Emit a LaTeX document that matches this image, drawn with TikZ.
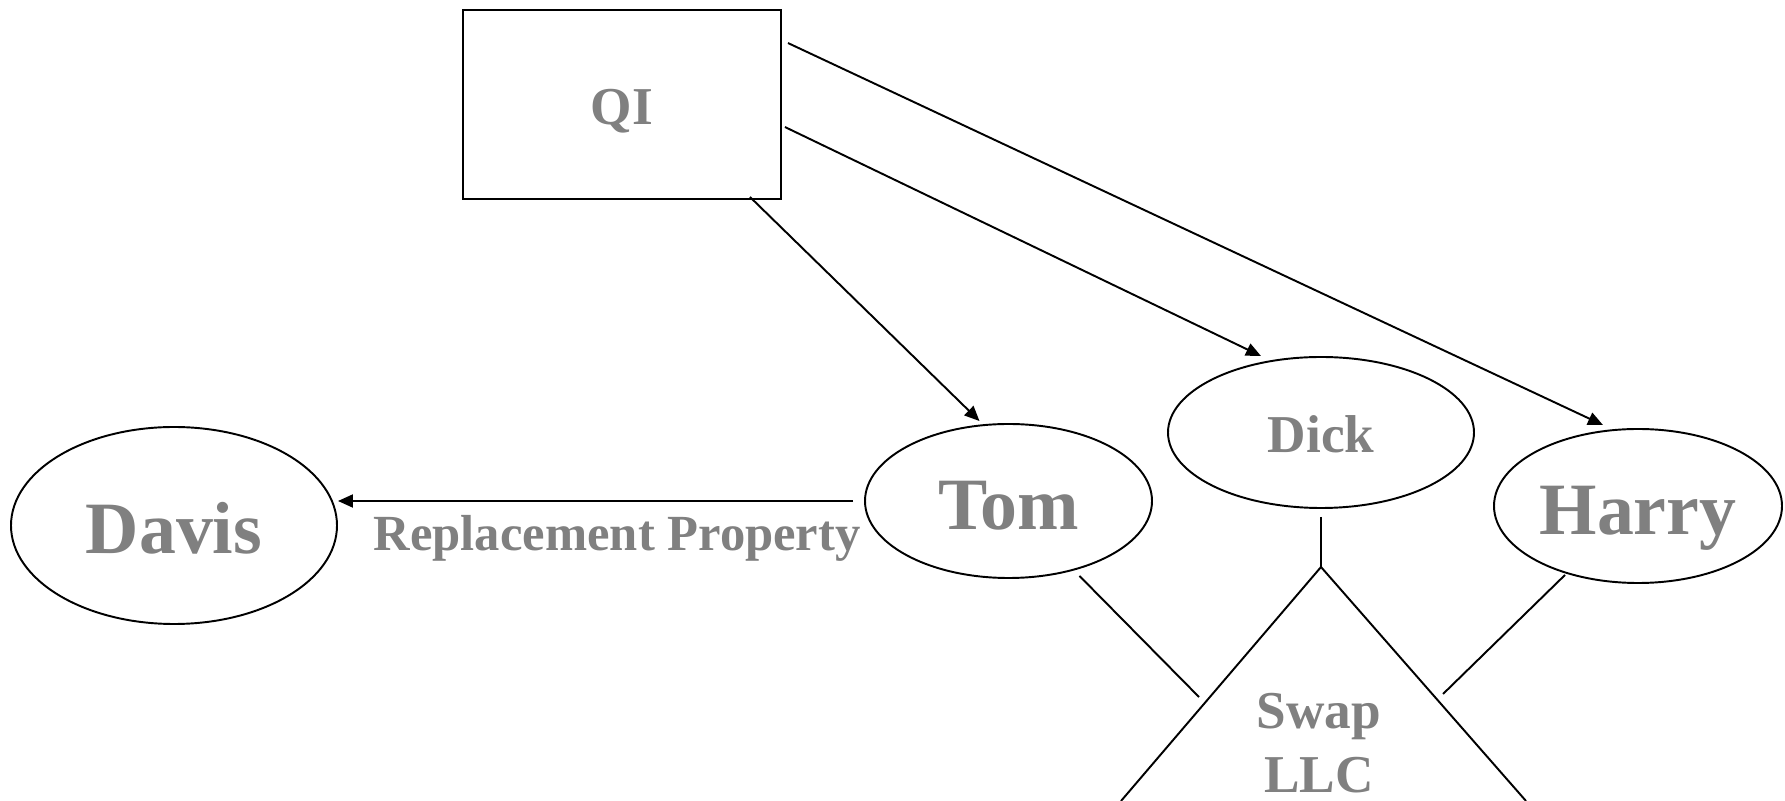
\documentclass[tikz,border=0pt]{standalone}
\usepackage{fontspec}
\setmainfont{Liberation Serif}
\usetikzlibrary{arrows.meta,positioning,shapes.geometric}
\definecolor{NomeCinza}{RGB}{128,128,128}
\definecolor{TracoPreto}{RGB}{0,0,0}
\tikzset{
  caixa/.style={draw=TracoPreto, line width=1.1pt, rectangle, inner sep=0pt,
                text=NomeCinza, text height=23.3pt, text depth=0pt, font=\fontsize{30.3}{34}\selectfont\bfseries},
  parte/.style={draw=TracoPreto, line width=1.1pt, ellipse, inner sep=0pt,
                text=NomeCinza, text height=31.9pt, text depth=0pt, font=\fontsize{42}{48}\selectfont\bfseries},
  partemenor/.style={parte, text height=23.3pt, font=\fontsize{30.3}{34}\selectfont\bfseries},
  seta/.style={-{Triangle[length=3mm, width=2.6mm]}, line width=1.1pt, TracoPreto},
  linha/.style={line width=1.1pt, TracoPreto},
  rotulo/.style={font=\fontsize{28.8}{32}\selectfont\bfseries, text=NomeCinza, inner sep=0pt},
  sociedade/.style={font=\fontsize{30.3}{36.5}\selectfont\bfseries, text=NomeCinza,
                align=center, inner sep=0pt},
}

\begin{document}
\begin{tikzpicture}

  \useasboundingbox (0,0) rectangle (35.7,16.02);

  % --- Intermediario qualificado ------------------------------------------
  \node[caixa, minimum width=6.36cm, minimum height=3.78cm] (qi) at (12.44, 13.93) {QI};

  % --- Partes (elipses) --------------------------------------------------
  \node[parte, minimum width=6.52cm, minimum height=3.94cm] (davis) at (3.48, 5.51) {Davis};
  \node[parte, minimum width=5.74cm, minimum height=3.08cm] (tom)   at (20.17, 6.00) {Tom};
  \node[partemenor, minimum width=6.12cm, minimum height=3.02cm] (dick) at (26.42, 7.37) {Dick};
  \node[parte, minimum width=5.76cm, minimum height=3.08cm] (harry) at (32.76, 5.90) {Harry};

  % --- Swap LLC (triangulo cortado na margem) ----------------------------
  \coordinate (apex)      at (26.42, 4.68);
  \coordinate (swapL)     at (22.42, 0);
  \coordinate (swapR)     at (30.52, 0);
  \coordinate (tomfoot)   at (23.98, 2.08);
  \coordinate (harryfoot) at (28.86, 2.14);
  \node[sociedade] (swap) at (26.38, 1.15) {Swap\\LLC};

  % --- Relacoes: QI -> partes --------------------------------------------
  \draw[seta] ([shift={(0.12,-0.68)}]qi.north east) -- ([shift={(-0.7,0.06)}]harry.north);
  \draw[seta] ([shift={(0.06,-2.36)}]qi.north east) -- ([xshift=-1.2cm]dick.north);
  \draw[seta] ([shift={(-0.64,0.06)}]qi.south east) -- ([shift={(-0.58,0.04)}]tom.north);

  % --- Relacao: Tom -> Davis ---------------------------------------------
  \draw[seta] ([xshift=-0.22cm]tom.west) -- node[rotulo, pos=0.458, below=0.26cm]{Replacement Property} (davis.east |- tom.west);

  % --- Relacoes: partes -- Swap LLC --------------------------------------
  \draw[linha] (swapL) -- (apex) -- (swapR);
  \draw[linha] ([yshift=-0.16cm]dick.south) -- (apex);
  \draw[linha] ([shift={(1.42,0.06)}]tom.south) -- (tomfoot);
  \draw[linha] ([shift={(-1.46,0.18)}]harry.south) -- (harryfoot);

\end{tikzpicture}
\end{document}
